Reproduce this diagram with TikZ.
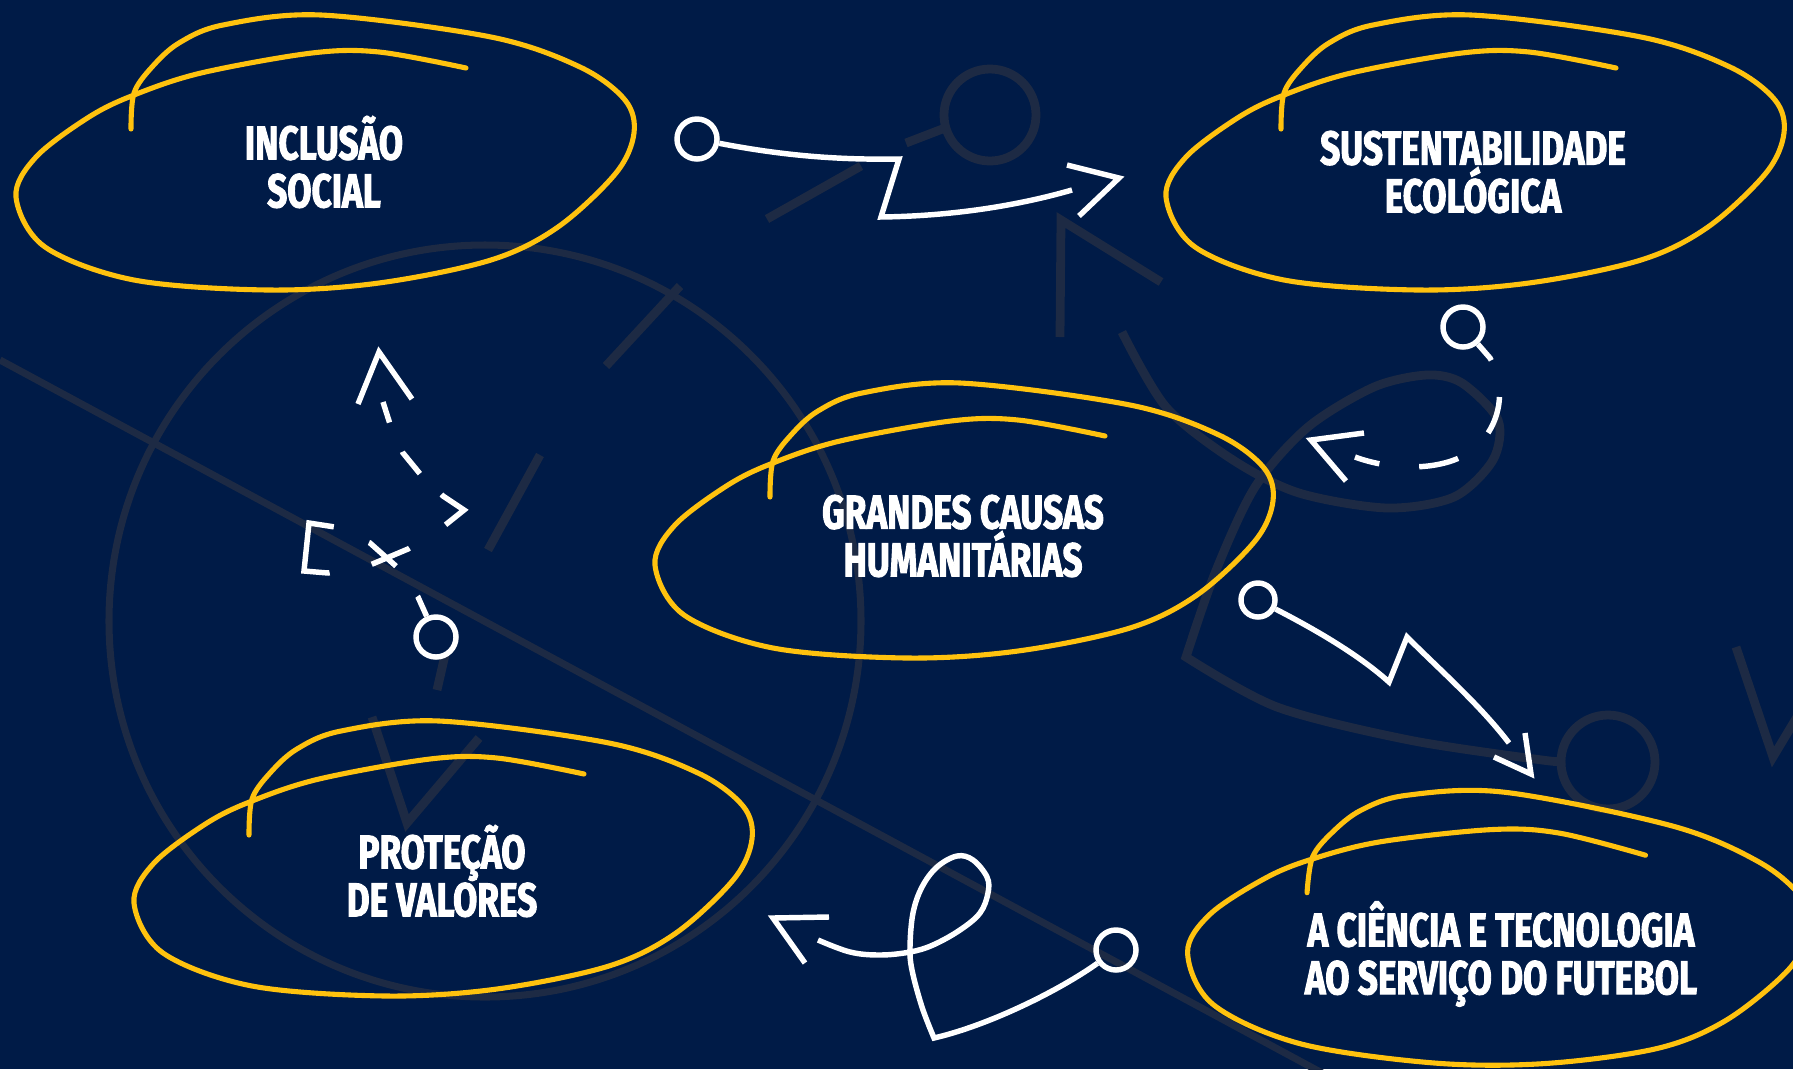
\documentclass[tikz,border=0pt]{standalone}
\usepackage{fontspec}
\usepackage{xcolor}
\usepackage{tikz}
\usetikzlibrary{positioning}
\setmainfont{Fira Sans}
\newfontfamily\causefont[FakeStretch=0.74,FakeBold=2]{Fira Sans}

\definecolor{pitch}{RGB}{0,27,71}
\definecolor{chalk}{RGB}{29,42,68}
\definecolor{marker}{RGB}{255,194,14}

% hand drawn lasso round a cause, origin at the text centre
\tikzset{
  lasso/.pic={
    \draw[markerline] plot[smooth, tension=0.55] coordinates {(-192,-37) (-189,-73) (-171,-99) (-144,-123) (-100,-141) (-2,-151) (168,-129) (257,-99) (302,-66) (311,-33) (293,7) (235,61) (168,94) (56,117) (-55,124) (-189,114) (-278,81) (-307,31) (-287,-9) (-234,-49) (-189,-71) (-122,-93) (-11,-113) (56,-114) (143,-98)};
  }
}

\begin{document}
\begin{tikzpicture}[x=0.01cm, y=-0.01cm, line cap=butt]
 \tikzstyle{markerline}=[draw=marker, line width=1.45pt, line cap=round]
 \tikzstyle{chalkline}=[draw=chalk, line width=2.5pt]
 \tikzstyle{wline}=[draw=white, line width=1.55pt]
 \tikzstyle{player}=[circle, draw=white, line width=1.55pt, minimum size=0.4cm, inner sep=0pt]
 \tikzstyle{cause}=[text=white, font=\causefont\bfseries\fontsize{13.5}{13.6}\selectfont, align=center, inner sep=0pt]

 \fill[pitch] (0,0) rectangle (1793,1069);
 \useasboundingbox (0,0) rectangle (1793,1069);

 % chalk marks of the board
 \draw[chalkline, line width=2pt] (485,621) circle[radius=376];
 \draw[chalkline, line width=2pt] (0,360) -- (1400,1115);
 \draw[chalkline] (606,366) -- (680,286);
 \draw[chalkline] (488,550) -- (540,455);
 \draw[chalkline] (437,690) -- (445,655);
 \draw[chalkline] (372,717) -- (407,823) -- (479,738);
 \draw[chalkline] (990,115) circle[radius=46];
 \draw[chalkline] (945,128) -- (906,143);
 \draw[chalkline] (861,166) -- (767,219);
 \draw[chalkline] (1060,337) -- (1061,220) -- (1161,282);
 \draw[chalkline] plot[smooth] coordinates {(1122,332) (1166,407) (1233,460) (1299,493) (1387,508) (1454,497) (1493,460) (1498,420) (1462,383) (1427,375) (1374,387) (1308,427) (1255,487) (1215,573) (1186,657)}
   -- plot[smooth] coordinates {(1186,657) (1277,707) (1409,740) (1542,760) (1561,761)};
 \draw[chalkline] (1608,762) circle[radius=47];
 \draw[chalkline] (1736,647) -- (1773,757) -- (1800,712);

 % causes
 \pic at (323,166) {lasso};
 \pic at (1473,166) {lasso};
 \pic at (962,534) {lasso};
 \pic at (441,872) {lasso};
 \pic[rotate=-4] at (1496,943) {lasso};

 \node[cause] (incl) at (324,162) {INCLUSÃO\\SOCIAL};
 \node[cause] (sust) at (1473,172) {SUSTENTABILIDADE\\ECOLÓGICA};
 \node[cause] (huma) at (963,536) {GRANDES CAUSAS\\HUMANITÁRIAS};
 \node[cause] (valo) at (442,871) {PROTEÇÃO\\DE VALORES};
 \node[cause] (cien) at (1501,954) {A CIÊNCIA E TECNOLOGIA\\AO SERVIÇO DO FUTEBOL};

 % moves between the causes
 \node[player] (p1) at (697,139) {};
 \coordinate (t1) at (1119,178);
 \draw[wline] (p1) .. controls (785,156) and (840,160) .. (899,159) -- (881,217) .. controls (955,216) and (1020,205) .. (1072,190);
 \draw[wline] (1067,165) -- (t1) -- (1079,216);

 \node[player] (p2) at (1463,327) {};
 \coordinate (t2) at (1311,440);
 \draw[wline, dash pattern=on 0.21cm off 0.38cm on 0.38cm off 0.40cm on 0.40cm off 0.40cm on 0.40cm off 1cm] (p2) -- (1490,358) .. controls (1508,390) and (1500,430) .. (1470,452) .. controls (1440,472) and (1390,470) .. (1355,457);
 \draw[wline] (1364,433) -- (t2) -- (1346,481);

 \node[player, minimum size=0.34cm] (p3) at (1258,600) {};
 \coordinate (t3) at (1531,774);
 \draw[wline] (p3) .. controls (1320,632) and (1360,656) .. (1389,682) -- (1407,637) .. controls (1440,670) and (1480,705) .. (1509,743);
 \draw[wline] (1525,733) -- (t3) -- (1494,757);

 \node[player] (p4) at (1116,950) {};
 \coordinate (t4) at (773,918);
 \draw[wline] (p4) .. controls (1060,990) and (990,1025) .. (934,1038)
   -- plot[smooth, tension=0.6] coordinates {(934,1038) (922,1007) (912,970) (910,947) (913,913) (922,887) (937,867) (957,856) (973,860) (987,877) (988,893) (980,913) (960,930) (933,945) (910,952) (880,955) (850,952) (818,940)};
 \draw[wline] (829,917) -- (t4) -- (805,963);

 \node[player] (p5) at (436,637) {};
 \coordinate (t5) at (379,352);
 \draw[wline, line join=miter, dash pattern=on 0.22cm off 0.37cm on 0.36cm off 0.385cm on 0.99cm off 0.43cm on 0.41cm off 0.43cm on 0.51cm off 0.30cm on 0.28cm off 0.32cm on 0.23cm off 1cm]
   (p5) -- (418,597) -- (397,567) -- (370,543) -- (335,527) -- (309,523) -- (304,571) -- (328,573) -- (370,565) -- (408,549) -- (444,526) -- (464,510) -- (443,496) -- (421,475) -- (403,453) -- (390,424) -- (383,402);
 \draw[wline] (358,404) -- (t5) -- (412,399);
\end{tikzpicture}
\end{document}
